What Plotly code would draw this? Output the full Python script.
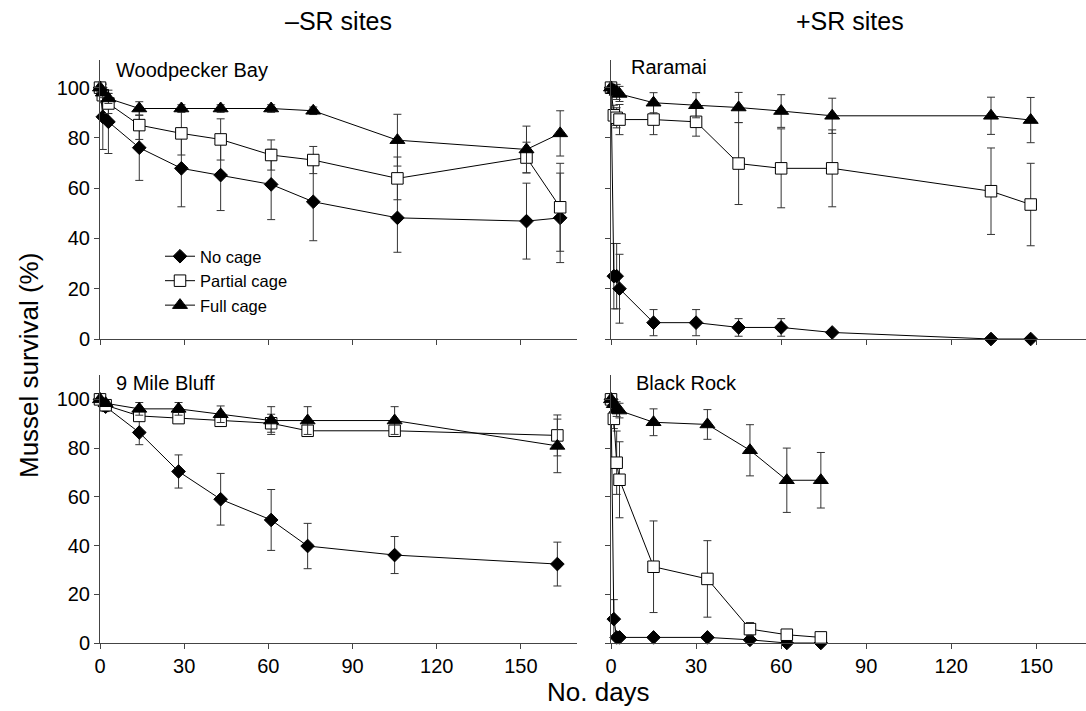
import plotly.graph_objects as go

# ---------------- data ----------------
series_names = ["No cage", "Partial cage", "Full cage"]

# Woodpecker Bay (-SR)
wb_days = [0, 1, 3, 14, 29, 43, 61, 76, 106, 152, 164]
wb_no = [100, 88.4, 86.4, 76.1, 67.9, 65.2, 61.5, 54.6, 48.2, 46.9, 48.2]
wb_no_err = [None, 13, 12.6, 13, 15.3, 14.1, 14, 15.5, 13.7, 15.1, 17.8]
wb_partial = [100, 97, 93.7, 85.1, 81.8, 79.4, 73.2, 71.2, 63.9, 72.2, 52.4]
wb_partial_err = [None, 3, 4, 5.7, 8.6, 8.2, 6, 5.4, 8.5, 6.1, 17.5]
wb_full = [100, 98, 95.7, 91.7, 91.7, 91.7, 91.7, 90.8, 79.1, 75.4, 81.8]
wb_full_err = [None, 2, 2, 2.7, 1.5, 1.5, 1.5, 1.5, 10.3, 9.3, 9]

# Raramai (+SR)
ra_days = [0, 1, 2, 3, 15, 30, 45, 60, 78, 134, 148]
ra_no = [100, 25, 25, 20, 6.5, 6.5, 4.6, 4.6, 2.6, 0, 0]
ra_no_err = [None, 13, 13, 13.7, 5.2, 5.2, 3.5, 3.5, None, None, None]
ra_partial = [100, 89, 88, 87.3, 87.3, 86.4, 69.8, 67.9, 67.9, 58.8, 53.5]
ra_partial_err = [None, 4, 4, 6, 6, 5.7, 16.3, 15.7, 15.3, 17.2, 16.4]
ra_full = [100, 99, 98.3, 97.5, 94, 93, 92.1, 90.7, 88.8, 88.8, 87.1]
ra_full_err = [None, 2, 3, 3, 4, 5, 6, 6.5, 7, 7.4, 9]

# 9 Mile Bluff (-SR)
mb_days = [0, 2, 14, 28, 43, 61, 74, 105, 163]
mb_no = [100, 97, 86.4, 70.4, 59, 50.5, 39.8, 36.1, 32.4]
mb_no_err = [None, 2, 5, 6.8, 10.6, 12.5, 9.3, 7.6, 9]
mb_partial = [100, 97.6, 93.2, 92.3, 91.2, 90.2, 87.1, 87.1, 85.2]
mb_partial_err = [None, 1.5, 2, 1.5, 1.5, 3.7, 1.5, 1.5, 8.4]
mb_full = [100, 98.4, 96.1, 96.1, 93.9, 91.3, 91.3, 91.3, 80.9]
mb_full_err = [None, 1, 2.6, 2.6, 3.4, 5.7, 5.7, 5.7, 11]

# Black Rock (+SR)
br_days = [0, 1, 2, 3, 15, 34, 49, 62, 74]
br_no = [100, 9.8, 2.3, 2.3, 2.3, 2.3, 1.3, 0, 0]
br_no_err = [None, 8, None, None, None, None, None, None, None]
br_partial = [100, 92, 74, 67, 31.3, 26.3, 5.7, 3.4, 2.3]
br_partial_err = [None, 4, 13, 15.6, 18.8, 15.7, 2.7, None, None]
br_full = [100, 98, 96, 95.4, 90.6, 89.7, 79.1, 66.8, 66.8]
br_full_err = [None, 2, 3, 3, 5.5, 6.1, 10.5, 13.2, 11.4]

panel_titles = ["Woodpecker Bay", "Raramai", "9 Mile Bluff", "Black Rock"]
column_titles = ["\u2013SR sites", "+SR sites"]
x_ticks = [0, 30, 60, 90, 120, 150]
y_ticks = [0, 20, 40, 60, 80, 100]

# ---------------- styles ----------------
FONT = "Liberation Sans, Arial, Helvetica, sans-serif"
AXC = "#444444"
marker_styles = [
    dict(symbol="diamond", size=10.5, color="black", line=dict(color="black", width=1)),
    dict(symbol="square", size=11.5, color="white", line=dict(color="black", width=1)),
    dict(symbol="triangle-up", size=13, color="black", line=dict(color="black", width=1)),
]

panels = [
    (wb_days, [wb_no, wb_partial, wb_full], [wb_no_err, wb_partial_err, wb_full_err], "x", "y"),
    (ra_days, [ra_no, ra_partial, ra_full], [ra_no_err, ra_partial_err, ra_full_err], "x2", "y2"),
    (mb_days, [mb_no, mb_partial, mb_full], [mb_no_err, mb_partial_err, mb_full_err], "x3", "y3"),
    (br_days, [br_no, br_partial, br_full], [br_no_err, br_partial_err, br_full_err], "x4", "y4"),
]

fig = go.Figure()
for pi, (days, vals, errs, xa, ya) in enumerate(panels):
    for si in range(3):
        fig.add_trace(go.Scatter(
            x=days, y=vals[si], xaxis=xa, yaxis=ya,
            mode="lines+markers", name=series_names[si],
            showlegend=(pi == 0),
            line=dict(color="black", width=1),
            marker=marker_styles[si],
            error_y=dict(type="data", array=errs[si], visible=True,
                         color="#333333", thickness=1, width=4),
            cliponaxis=False,
        ))

W, H = 1086, 711
ML, MR, MT, MB = 100, 0, 55, 68
PW, PH = W - ML - MR, H - MT - MB


def px_x(p):
    return (p - ML) / PW


def px_y(p):
    return 1 - (p - MT) / PH


xdom_left = [0, px_x(577)]
xdom_right = [px_x(611), 1.0]
ydom_top = [px_y(339), px_y(60)]
ydom_bot = [0, px_y(375)]

common_x = dict(showline=True, linecolor=AXC, linewidth=1, ticks="outside",
                ticklen=5, tickcolor=AXC, tickvals=x_ticks, showgrid=False,
                zeroline=False, tickfont=dict(size=20, color="black", family=FONT))
common_y = dict(showline=True, linecolor=AXC, linewidth=1, ticks="outside",
                ticklen=5, tickcolor=AXC, tickvals=y_ticks, showgrid=False,
                zeroline=False, tickfont=dict(size=20, color="black", family=FONT))

fig.update_layout(
    width=W, height=H,
    margin=dict(l=ML, r=MR, t=MT, b=MB),
    paper_bgcolor="white", plot_bgcolor="white",
    font=dict(family=FONT, color="black"),
    xaxis=dict(common_x, domain=xdom_left, range=[0, 170], anchor="y", showticklabels=False),
    yaxis=dict(common_y, domain=ydom_top, range=[0, 111], anchor="x"),
    xaxis2=dict(common_x, domain=xdom_right, range=[0, 167.5], anchor="y2", showticklabels=False),
    yaxis2=dict(common_y, domain=ydom_top, range=[0, 111], anchor="x2", showticklabels=False),
    xaxis3=dict(common_x, domain=xdom_left, range=[0, 170], anchor="y3"),
    yaxis3=dict(common_y, domain=ydom_bot, range=[0, 110], anchor="x3"),
    xaxis4=dict(common_x, domain=xdom_right, range=[0, 167.5], anchor="y4"),
    yaxis4=dict(common_y, domain=ydom_bot, range=[0, 110], anchor="x4", showticklabels=False),
    legend=dict(x=px_x(160), y=px_y(239), xanchor="left", yanchor="top",
                bgcolor="rgba(0,0,0,0)", font=dict(size=16.5, family=FONT, color="black"),
                tracegroupgap=0),
    showlegend=True,
)

annots = [
    (panel_titles[0], px_x(114), px_y(70), 20),
    (panel_titles[1], px_x(629), px_y(67), 20),
    (panel_titles[2], px_x(114), px_y(383), 20),
    (panel_titles[3], px_x(634), px_y(383), 20),
]
for txt, x, y, s in annots:
    fig.add_annotation(text=txt, x=x, y=y, xref="paper", yref="paper",
                       xanchor="left", yanchor="middle", showarrow=False,
                       font=dict(size=s, family=FONT, color="black"))

fig.add_annotation(text=column_titles[0], x=px_x(338), y=px_y(21), xref="paper", yref="paper",
                   xanchor="center", yanchor="middle", showarrow=False,
                   font=dict(size=25, family=FONT, color="black"))
fig.add_annotation(text=column_titles[1], x=px_x(850), y=px_y(21), xref="paper", yref="paper",
                   xanchor="center", yanchor="middle", showarrow=False,
                   font=dict(size=25, family=FONT, color="black"))
fig.add_annotation(text="No. days", x=px_x(598), y=px_y(692), xref="paper", yref="paper",
                   xanchor="center", yanchor="middle", showarrow=False,
                   font=dict(size=26, family=FONT, color="black"))
fig.add_annotation(text="Mussel survival (%)", x=px_x(29), y=px_y(366), xref="paper", yref="paper",
                   xanchor="center", yanchor="middle", showarrow=False, textangle=-90,
                   font=dict(size=26, family=FONT, color="black"))

fig.write_html("out.html", config={"displayModeBar": False},
               post_script="document.body.style.margin='0';document.body.style.overflow='hidden';")
